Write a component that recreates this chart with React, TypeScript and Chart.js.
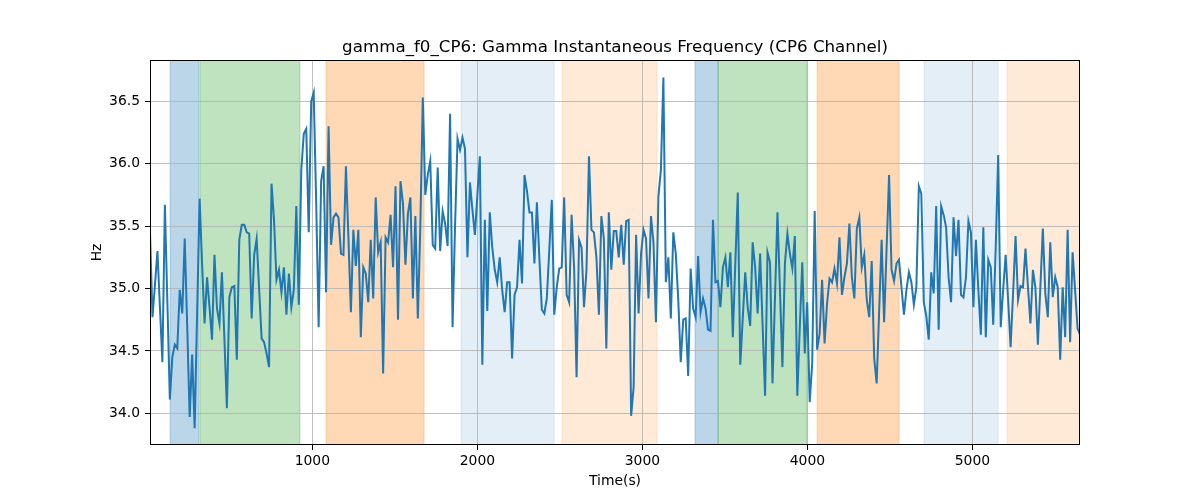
import { useEffect, useRef } from "react"
import { Chart, registerables } from "chart.js"

Chart.register(...registerables)

// sampling grid of the frequency trace (seconds)
const SAMPLE_START = 16
const SAMPLE_STEP = 15.03

// gamma f0, CP6, Hz
const gammaF0 = [
  35.45, 34.77, 35.03, 35.3, 34.85, 34.41, 35.67, 34.9, 34.11, 34.45,
  34.55, 34.52, 34.99, 34.8, 35.4, 34.7, 33.97, 34.47, 33.88, 34.8,
  35.72, 35.2, 34.72, 35.09, 34.85, 34.59, 35.27, 34.84, 34.72, 35.13,
  34.6, 34.04, 34.93, 35.01, 35.02, 34.43, 35.39, 35.51, 35.51, 35.45,
  35.44, 34.76, 35.27, 35.4, 35.0, 34.6, 34.57, 34.48, 34.37, 35.84,
  35.55, 35.07, 35.15, 34.97, 35.17, 34.79, 35.12, 34.85, 34.99, 35.66,
  34.87, 35.95, 36.24, 36.28, 35.45, 36.5, 36.57, 35.7, 34.69, 35.86,
  35.98, 34.97, 36.3, 35.35, 35.57, 35.6, 35.57, 35.28, 35.27, 35.98,
  35.41, 34.81, 35.47, 35.18, 35.47, 34.61, 35.17, 35.12, 34.89, 35.39,
  34.92, 35.73, 35.29, 35.37, 34.32, 35.41, 35.37, 35.59, 35.17, 35.82,
  34.75, 35.86, 35.68, 35.19, 35.6, 35.73, 34.92, 35.58, 34.76, 35.5,
  36.53, 35.75, 35.91, 36.02, 35.35, 35.32, 35.97, 35.3, 35.62, 35.52,
  35.34, 36.4, 34.69, 35.5, 36.2, 36.11, 36.21, 36.12, 35.25, 35.85,
  35.63, 35.43, 35.75, 36.06, 34.39, 35.55, 34.82, 35.61, 35.33, 35.15,
  35.05, 35.25, 34.99, 34.81, 35.05, 35.05, 34.44, 34.95, 35.01, 35.39,
  35.04, 35.91, 35.78, 35.61, 35.61, 35.2, 35.69, 35.24, 34.83, 34.8,
  34.92, 35.31, 35.71, 34.79, 35.01, 35.16, 35.17, 35.73, 34.95, 34.89,
  35.59, 35.17, 34.29, 35.39, 35.33, 34.85, 35.15, 36.06, 35.47, 35.45,
  35.25, 34.79, 35.58, 35.4, 34.52, 35.61, 35.15, 35.46, 35.46, 35.25,
  35.51, 35.19, 35.54, 35.55, 33.98, 34.21, 35.43, 34.8, 35.28, 35.47,
  35.4, 34.92, 35.58, 35.37, 34.73, 35.74, 35.95, 36.69, 35.05, 35.25,
  34.76, 35.45, 35.28, 34.91, 34.41, 34.75, 34.76, 34.3, 35.16, 34.84,
  34.77, 35.26, 34.81, 34.92, 34.84, 34.67, 34.66, 35.55, 35.05, 35.06,
  34.85, 35.17, 35.25, 35.01, 35.29, 34.61, 35.2, 35.77, 34.39, 34.76,
  35.13, 34.85, 34.7, 35.37, 35.17, 34.8, 35.28, 34.71, 34.14, 35.29,
  35.21, 34.24, 34.93, 35.61, 34.99, 34.37, 35.2, 35.44, 35.28, 35.16,
  35.42, 34.14, 34.69, 35.21, 34.48, 34.89, 34.09, 34.4, 35.62, 34.51,
  34.64, 35.07, 34.56, 34.88, 35.08, 35.05, 35.16, 35.04, 35.41, 34.95,
  35.09, 35.2, 35.52, 35.09, 34.92, 35.48, 35.57, 35.17, 35.27, 34.91,
  34.77, 35.22, 34.44, 34.24, 34.82, 35.39, 34.73, 35.32, 35.91, 35.15,
  35.06, 35.2, 35.23, 35.01, 34.79, 34.99, 35.13, 35.05, 34.87, 35.01,
  35.82, 35.76, 34.89, 34.78, 34.59, 35.13, 34.96, 35.66, 34.67, 35.66,
  35.59, 35.49, 35.09, 34.89, 35.57, 35.26, 35.55, 34.95, 34.93, 35.09,
  35.54, 35.45, 34.85, 35.39, 34.99, 34.63, 35.49, 34.61, 35.23, 35.17,
  34.71, 35.33, 36.07, 34.69, 34.99, 35.27, 34.91, 34.53, 34.96, 35.42,
  34.91, 35.02, 35.01, 35.32, 35.01, 34.72, 35.15, 35.01, 34.55, 35.01,
  35.48, 34.96, 34.77, 35.37, 34.93, 35.09, 35.01, 34.43, 35.01, 34.61,
  35.47, 34.57, 35.29, 34.99, 34.68, 34.63,
]

// shaded intervals (seconds)
const spanStarts = [138, 319, 1083, 1901, 2513, 3319, 3459, 4059, 4707, 5210]
const spanEnds = [313, 925, 1677, 2465, 3089, 3459, 3998, 4556, 5156, 5700]
const spanKinds = ["blue", "green", "orange", "blueLight", "orangeLight", "blue", "green", "orange", "blueLight", "orangeLight"]

const xTicks = [1000, 2000, 3000, 4000, 5000]
const yTicks = [34.0, 34.5, 35.0, 35.5, 36.0, 36.5]

const X_MIN = 16
const X_MAX = 5652
const Y_MIN = 33.746
const Y_MAX = 36.831

const SPAN_COLORS: Record<string, string> = {
  blue: "rgba(31, 119, 180, 0.3)",
  green: "rgba(44, 160, 44, 0.3)",
  orange: "rgba(255, 127, 14, 0.3)",
  blueLight: "rgba(31, 119, 180, 0.12)",
  orangeLight: "rgba(255, 127, 14, 0.16)",
}

const FONT = "'DejaVu Sans', sans-serif"

const spansPlugin = {
  id: "spans",
  beforeDraw(chart: any) {
    const { ctx, chartArea, scales } = chart
    ctx.save()
    ctx.beginPath()
    ctx.rect(chartArea.left, chartArea.top, chartArea.width, chartArea.height)
    ctx.clip()
    spanStarts.forEach((start, i) => {
      const x0 = scales.x.getPixelForValue(start)
      const x1 = scales.x.getPixelForValue(spanEnds[i])
      const color = SPAN_COLORS[spanKinds[i]]
      ctx.fillStyle = color
      ctx.fillRect(x0, chartArea.top, x1 - x0, chartArea.height)
      ctx.strokeStyle = color
      ctx.lineWidth = 1
      ctx.beginPath()
      ctx.moveTo(x0, chartArea.top)
      ctx.lineTo(x0, chartArea.bottom)
      ctx.moveTo(x1, chartArea.top)
      ctx.lineTo(x1, chartArea.bottom)
      ctx.stroke()
    })
    ctx.restore()
  },
}

const frameAndTextPlugin = {
  id: "frameAndText",
  afterDraw(chart: any) {
    const { ctx, chartArea } = chart
    const cx = (chartArea.left + chartArea.right) / 2
    const cy = (chartArea.top + chartArea.bottom) / 2
    ctx.save()
    ctx.strokeStyle = "#000"
    ctx.lineWidth = 1
    ctx.strokeRect(chartArea.left + 0.5, chartArea.top + 0.5, chartArea.width - 1, chartArea.height - 1)

    ctx.fillStyle = "#000"
    ctx.textAlign = "center"
    ctx.textBaseline = "alphabetic"
    ctx.font = `16.7px ${FONT}`
    ctx.fillText("gamma_f0_CP6: Gamma Instantaneous Frequency (CP6 Channel)", cx, chartArea.top - 8)

    ctx.font = `13.9px ${FONT}`
    ctx.textBaseline = "middle"
    ctx.fillText("Time(s)", cx, 481)

    ctx.translate(97, cy)
    ctx.rotate(-Math.PI / 2)
    ctx.fillText("Hz", 0, 0)
    ctx.restore()
  },
}

function GammaChart() {
  const chartRef = useRef<HTMLCanvasElement>(null)
  const chartInstance = useRef<Chart | null>(null)

  useEffect(() => {
    if (!chartRef.current) return
    if (chartInstance.current) chartInstance.current.destroy()

    const ctx = chartRef.current.getContext("2d")
    if (!ctx) return

    chartInstance.current = new Chart(ctx, {
      type: "line",
      data: {
        datasets: [
          {
            label: "gamma_f0_CP6",
            data: gammaF0.map((v, i) => ({ x: SAMPLE_START + i * SAMPLE_STEP, y: v })),
            borderColor: "#1f77b4",
            borderWidth: 2,
            pointRadius: 0,
            tension: 0,
            fill: false,
          },
        ],
      },
      options: {
        animation: false,
        responsive: true,
        maintainAspectRatio: false,
        layout: { padding: { top: 60, right: 120, left: 0, bottom: 0 } },
        plugins: {
          legend: { display: false },
          title: { display: false },
          tooltip: { enabled: false },
        },
        scales: {
          x: {
            type: "linear",
            min: X_MIN,
            max: X_MAX,
            afterBuildTicks: (scale: any) => {
              scale.ticks = xTicks.map((v) => ({ value: v }))
            },
            afterFit: (scale: any) => {
              scale.height = 55
            },
            ticks: {
              color: "#000",
              font: { family: FONT, size: 13.9 },
              padding: 3,
              maxRotation: 0,
              callback: (v: any) => String(v),
            },
            grid: {
              color: "#b0b0b0",
              lineWidth: 0.8,
              tickColor: "#000",
              tickLength: 5,
              tickWidth: 1,
            },
            border: { display: false },
          },
          y: {
            type: "linear",
            min: Y_MIN,
            max: Y_MAX,
            afterBuildTicks: (scale: any) => {
              scale.ticks = yTicks.map((v) => ({ value: v }))
            },
            afterFit: (scale: any) => {
              scale.width = 150
            },
            ticks: {
              color: "#000",
              font: { family: FONT, size: 13.9 },
              padding: 5,
              callback: (v: any) => Number(v).toFixed(1),
            },
            grid: {
              color: "#b0b0b0",
              lineWidth: 0.8,
              tickColor: "#000",
              tickLength: 5,
              tickWidth: 1,
            },
            border: { display: false },
          },
        },
      },
      plugins: [spansPlugin, frameAndTextPlugin],
    })

    return () => {
      if (chartInstance.current) {
        chartInstance.current.destroy()
        chartInstance.current = null
      }
    }
  }, [])

  return (
    <div style={{ position: "absolute", left: 0, top: 0, width: 1200, height: 500, background: "#fff" }}>
      <canvas ref={chartRef} />
    </div>
  )
}

export default function App() {
  return <GammaChart />
}
